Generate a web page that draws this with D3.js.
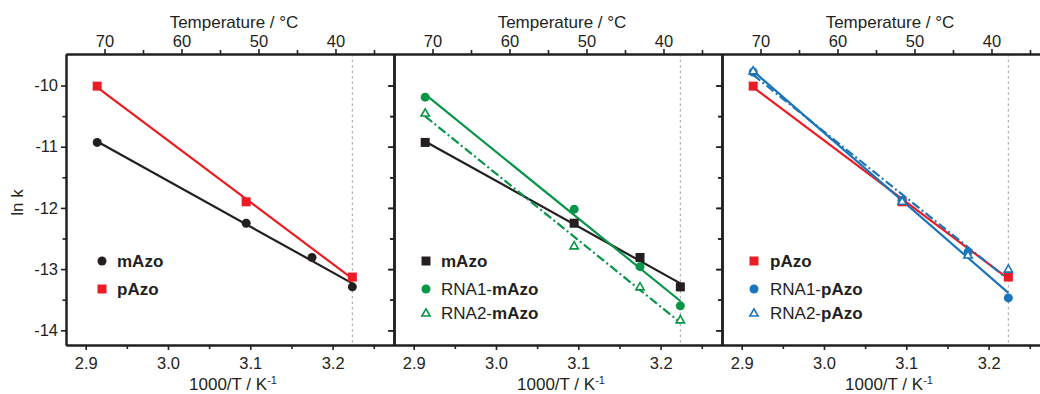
<!DOCTYPE html>
<html><head><meta charset="utf-8">
<script src="https://cdn.jsdelivr.net/npm/d3@7"></script>
<style>
body{margin:0;background:#fff}
text{font-family:"Liberation Sans",Arial,Helvetica,sans-serif;fill:#231f20}
</style>
</head><body>
<svg id="c" width="1040" height="394"></svg>
<script>
// ---------- data ----------
const invT = [2.914, 3.095, 3.175, 3.224];          // 1000/T (K^-1) for 70, 50, 42, 37 °C
const xTicks = [2.9, 3.0, 3.1, 3.2];
const xMinor = [2.95, 3.05, 3.15, 3.25];
const tempTicks = [70, 60, 50, 40];
const tempMinor = [65, 55, 45, 35];
const yTicks = [-10, -11, -12, -13, -14];
const yMinor = [-10.5, -11.5, -12.5, -13.5];
const refX = 3.224;                                  // dotted reference line

const mAzo      = [-10.93, -12.25, -12.81, -13.29];
const pAzo      = [-10.01, -11.90, null,   -13.13];
const RNA1_mAzo = [-10.19, -12.02, -12.96, -13.60];
const RNA2_mAzo = [-10.45, -12.62, -13.29, -13.83];
const RNA1_pAzo = [-9.78,  -11.88, -12.72, -13.47];
const RNA2_pAzo = [-9.76,  -11.89, -12.77, -13.00];

// ---------- style ----------
const C = {black:"#231f20", red:"#ed1c24", green:"#079548", blue:"#1b75bb"};
const panels = [
  {series:[
    {vals:mAzo, color:C.black, shape:"circle", dash:null, label:[["mAzo",true]]},
    {vals:pAzo, color:C.red, shape:"square", dash:null, label:[["pAzo",true]]}
  ], legX:36, legT:15},
  {series:[
    {vals:mAzo, color:C.black, shape:"square", dash:null, label:[["mAzo",true]]},
    {vals:RNA1_mAzo, color:C.green, shape:"circle", dash:null, label:[["RNA1-",false],["mAzo",true]]},
    {vals:RNA2_mAzo, color:C.green, shape:"triangle", dash:"9,3,2,3", label:[["RNA2-",false],["mAzo",true]]}
  ], legX:32, legT:15},
  {series:[
    {vals:pAzo, color:C.red, shape:"square", dash:null, label:[["pAzo",true]]},
    {vals:RNA1_pAzo, color:C.blue, shape:"circle", dash:null, label:[["RNA1-",false],["pAzo",true]]},
    {vals:RNA2_pAzo, color:C.blue, shape:"triangle", dash:"9,3,2,3", label:[["RNA2-",false],["pAzo",true]]}
  ], legX:32, legT:16}
];

const svg = d3.select("#c");
const PW = 328, yTop = 54, yBot = 345, left0 = 66;
const legRows = [261, 289, 313];

const x = d3.scaleLinear().domain([2.8761, 3.2746]).range([0, PW]);
const xt = d3.scaleLinear().domain([75, 32.4]).range([0, PW]);
const y = d3.scaleLinear().domain([-14.24, -9.485]).range([yBot, yTop]);

function fit(xs, ys){
  const p = xs.map((v,i)=>[v,ys[i]]).filter(d=>d[1]!=null);
  const mx = d3.mean(p,d=>d[0]), my = d3.mean(p,d=>d[1]);
  const sxy = d3.sum(p,d=>(d[0]-mx)*(d[1]-my)), sxx = d3.sum(p,d=>(d[0]-mx)**2);
  const b = sxy/sxx;
  const x0 = d3.min(p,d=>d[0]), x1 = d3.max(p,d=>d[0]);
  return [[x0, my + b*(x0-mx)], [x1, my + b*(x1-mx)]];
}

function marker(g, shape, color, cx, cy){
  if(shape==="circle") g.append("circle").attr("cx",cx).attr("cy",cy).attr("r",4.5).attr("fill",color);
  else if(shape==="square") g.append("rect").attr("x",cx-4.5).attr("y",cy-4.5).attr("width",9).attr("height",9).attr("fill",color);
  else g.append("path").attr("d",d3.symbol(d3.symbolTriangle,30)()).attr("transform",`translate(${cx},${cy+0.6})`)
        .attr("fill","#fff").attr("stroke",color).attr("stroke-width",1.6);
}

function styleAxis(g){
  g.attr("font-family",null).attr("font-size",null);
  g.select(".domain").attr("stroke","#231f20").attr("stroke-width",2);
  g.selectAll(".tick line").attr("stroke","#231f20").attr("stroke-width",1.6);
  g.selectAll(".tick text").attr("fill","#231f20").style("font-size","16.5px");
}

panels.forEach((P, pi) => {
  const ox = left0 + pi*PW;
  const g = svg.append("g").attr("transform",`translate(${ox},0)`);

  // reference dotted line
  g.append("line").attr("x1",x(refX)).attr("x2",x(refX)).attr("y1",yTop).attr("y2",yBot)
    .attr("stroke","#a8a8a8").attr("stroke-width",1.1).attr("stroke-dasharray","2.5,3");

  // axes
  styleAxis(g.append("g").attr("transform",`translate(0,${yBot})`)
    .call(d3.axisBottom(x).tickValues(xTicks).tickFormat(d3.format(".1f")).tickSize(5).tickSizeOuter(0).tickPadding(7)));
  styleAxis(g.append("g").attr("transform",`translate(0,${yBot})`)
    .call(d3.axisBottom(x).tickValues(xMinor).tickFormat("").tickSize(4).tickSizeOuter(0)));

  styleAxis(g.append("g").attr("transform",`translate(0,${yTop})`)
    .call(d3.axisTop(xt).tickValues(tempTicks).tickSize(5).tickSizeOuter(0).tickPadding(2)));
  styleAxis(g.append("g").attr("transform",`translate(0,${yTop})`)
    .call(d3.axisTop(xt).tickValues(tempMinor).tickFormat("").tickSize(4).tickSizeOuter(0)));

  styleAxis(g.append("g")
    .call(d3.axisLeft(y).tickValues(yTicks).tickFormat(pi===0 ? d=>String(d) : "").tickSize(5).tickSizeOuter(0).tickPadding(3)));
  styleAxis(g.append("g")
    .call(d3.axisLeft(y).tickValues(yMinor).tickFormat("").tickSize(3.5).tickSizeOuter(0)));

  styleAxis(g.append("g").attr("transform",`translate(${PW},0)`)
    .call(d3.axisLeft(y).tickValues(yTicks).tickFormat("").tickSize(6).tickSizeOuter(0)));
  styleAxis(g.append("g").attr("transform",`translate(${PW},0)`)
    .call(d3.axisLeft(y).tickValues(yMinor).tickFormat("").tickSize(4).tickSizeOuter(0)));

  // titles
  g.append("text").attr("x",168).attr("y",27.5).attr("text-anchor","middle").style("font-size","17px")
    .text("Temperature / °C");
  const bt = g.append("text").attr("x",167).attr("y",390).attr("text-anchor","middle").style("font-size","17px");
  bt.append("tspan").text("1000/T / K");
  bt.append("tspan").attr("dy",-6).style("font-size","11px").text("-1");

  // fit lines
  P.series.forEach(s => {
    const f = fit(invT, s.vals);
    g.append("line").attr("x1",x(f[0][0])).attr("y1",y(f[0][1])).attr("x2",x(f[1][0])).attr("y2",y(f[1][1]))
      .attr("stroke",s.color).attr("stroke-width",2.2).attr("stroke-dasharray",s.dash);
  });
  // markers
  P.series.forEach(s => {
    s.vals.forEach((v,i) => { if(v!=null) marker(g, s.shape, s.color, x(invT[i]), y(v)); });
  });
  // legend
  P.series.forEach((s,k) => {
    const ly = legRows[k];
    marker(g, s.shape, s.color, P.legX, ly);
    const t = g.append("text").attr("x",P.legX+P.legT).attr("y",ly+6).style("font-size","17px");
    s.label.forEach(([txt,b]) => t.append("tspan").style("font-weight",b?"bold":"normal").text(txt));
  });
});

// y-axis label
svg.append("text").attr("transform","translate(23,202.5) rotate(-90)").attr("text-anchor","middle")
  .style("font-size","17px").text("ln k");
</script>
</body></html>
